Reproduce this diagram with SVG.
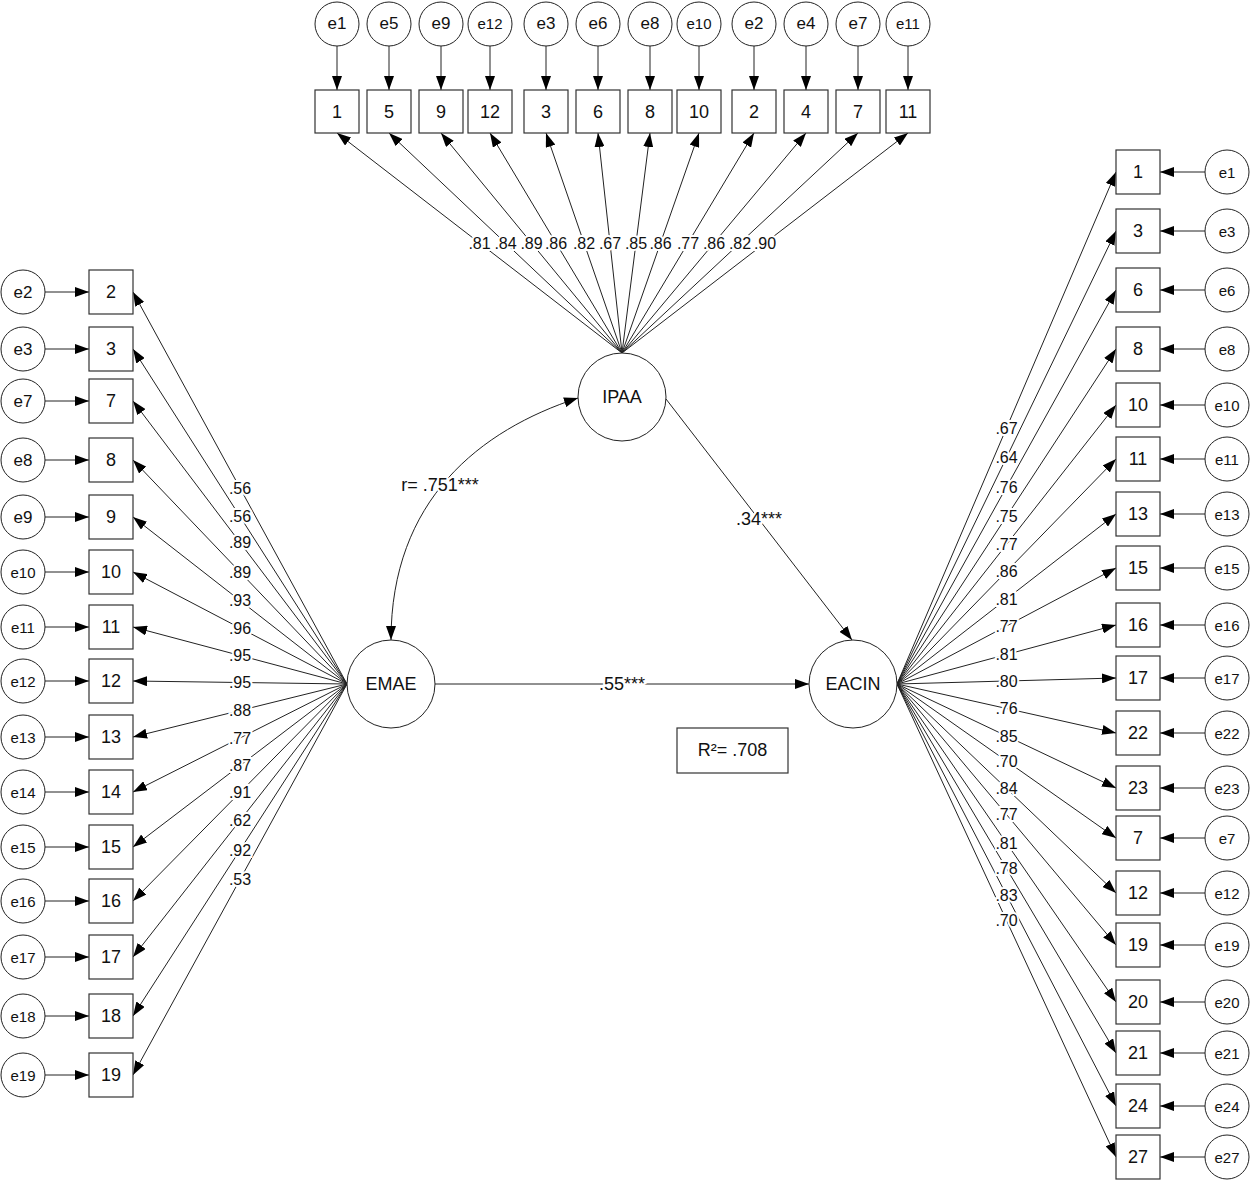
<svg xmlns="http://www.w3.org/2000/svg" width="1251" height="1181" viewBox="0 0 1251 1181">
<defs>
<marker id="ah" viewBox="0 0 14 10" refX="14" refY="5" markerWidth="14" markerHeight="10" markerUnits="userSpaceOnUse" orient="auto-start-reverse"><path d="M0,0 L14,5 L0,10 z" fill="#000"/></marker>
<style>
.box{fill:#fff;stroke:#333;stroke-width:1.2}
.err{fill:#fff;stroke:#222;stroke-width:1}
.lat{fill:#fff;stroke:#222;stroke-width:1}
text{font-family:"Liberation Sans",Arial,sans-serif;text-anchor:middle;dominant-baseline:central;fill:#111}
.n{font-size:18px}
.e1{font-size:17px}
.e2{font-size:15px}
.lv{font-size:18px}
.conn line,.conn path{stroke:#222;stroke-width:1;fill:none;marker-end:url(#ah)}
.lbl text{font-size:16px;stroke:#fff;stroke-width:4;paint-order:stroke}
.lbl text.big{font-size:18px}
</style>
</defs>
<rect width="1251" height="1181" fill="#fff"/>

<g id="connectors" class="conn">
<line x1="337" y1="46" x2="337" y2="90"/><line x1="389" y1="46" x2="389" y2="90"/><line x1="441" y1="46" x2="441" y2="90"/><line x1="490" y1="46" x2="490" y2="90"/><line x1="546" y1="46" x2="546" y2="90"/><line x1="598" y1="46" x2="598" y2="90"/><line x1="650" y1="46" x2="650" y2="90"/><line x1="699" y1="46" x2="699" y2="90"/><line x1="754" y1="46" x2="754" y2="90"/><line x1="806" y1="46" x2="806" y2="90"/><line x1="858" y1="46" x2="858" y2="90"/><line x1="908" y1="46" x2="908" y2="90"/>
<line x1="622" y1="353" x2="337" y2="133"/><line x1="622" y1="353" x2="389" y2="133"/><line x1="622" y1="353" x2="441" y2="133"/><line x1="622" y1="353" x2="490" y2="133"/><line x1="622" y1="353" x2="546" y2="133"/><line x1="622" y1="353" x2="598" y2="133"/><line x1="622" y1="353" x2="650" y2="133"/><line x1="622" y1="353" x2="699" y2="133"/><line x1="622" y1="353" x2="754" y2="133"/><line x1="622" y1="353" x2="806" y2="133"/><line x1="622" y1="353" x2="858" y2="133"/><line x1="622" y1="353" x2="908" y2="133"/>
<line x1="45" y1="292" x2="89" y2="292"/><line x1="45" y1="349" x2="89" y2="349"/><line x1="45" y1="401" x2="89" y2="401"/><line x1="45" y1="460" x2="89" y2="460"/><line x1="45" y1="517" x2="89" y2="517"/><line x1="45" y1="572" x2="89" y2="572"/><line x1="45" y1="627" x2="89" y2="627"/><line x1="45" y1="681" x2="89" y2="681"/><line x1="45" y1="737" x2="89" y2="737"/><line x1="45" y1="792" x2="89" y2="792"/><line x1="45" y1="847" x2="89" y2="847"/><line x1="45" y1="901" x2="89" y2="901"/><line x1="45" y1="957" x2="89" y2="957"/><line x1="45" y1="1016" x2="89" y2="1016"/><line x1="45" y1="1075" x2="89" y2="1075"/>
<line x1="347" y1="684" x2="133" y2="292"/><line x1="347" y1="684" x2="133" y2="349"/><line x1="347" y1="684" x2="133" y2="401"/><line x1="347" y1="684" x2="133" y2="460"/><line x1="347" y1="684" x2="133" y2="517"/><line x1="347" y1="684" x2="133" y2="572"/><line x1="347" y1="684" x2="133" y2="627"/><line x1="347" y1="684" x2="133" y2="681"/><line x1="347" y1="684" x2="133" y2="737"/><line x1="347" y1="684" x2="133" y2="792"/><line x1="347" y1="684" x2="133" y2="847"/><line x1="347" y1="684" x2="133" y2="901"/><line x1="347" y1="684" x2="133" y2="957"/><line x1="347" y1="684" x2="133" y2="1016"/><line x1="347" y1="684" x2="133" y2="1075"/>
<line x1="1205" y1="172" x2="1160" y2="172"/><line x1="1205" y1="231" x2="1160" y2="231"/><line x1="1205" y1="290" x2="1160" y2="290"/><line x1="1205" y1="349" x2="1160" y2="349"/><line x1="1205" y1="405" x2="1160" y2="405"/><line x1="1205" y1="459" x2="1160" y2="459"/><line x1="1205" y1="514" x2="1160" y2="514"/><line x1="1205" y1="568" x2="1160" y2="568"/><line x1="1205" y1="625" x2="1160" y2="625"/><line x1="1205" y1="678" x2="1160" y2="678"/><line x1="1205" y1="733" x2="1160" y2="733"/><line x1="1205" y1="788" x2="1160" y2="788"/><line x1="1205" y1="838" x2="1160" y2="838"/><line x1="1205" y1="893" x2="1160" y2="893"/><line x1="1205" y1="945" x2="1160" y2="945"/><line x1="1205" y1="1002" x2="1160" y2="1002"/><line x1="1205" y1="1053" x2="1160" y2="1053"/><line x1="1205" y1="1106" x2="1160" y2="1106"/><line x1="1205" y1="1157" x2="1160" y2="1157"/>
<line x1="897" y1="684" x2="1116" y2="172"/><line x1="897" y1="684" x2="1116" y2="231"/><line x1="897" y1="684" x2="1116" y2="290"/><line x1="897" y1="684" x2="1116" y2="349"/><line x1="897" y1="684" x2="1116" y2="405"/><line x1="897" y1="684" x2="1116" y2="459"/><line x1="897" y1="684" x2="1116" y2="514"/><line x1="897" y1="684" x2="1116" y2="568"/><line x1="897" y1="684" x2="1116" y2="625"/><line x1="897" y1="684" x2="1116" y2="678"/><line x1="897" y1="684" x2="1116" y2="733"/><line x1="897" y1="684" x2="1116" y2="788"/><line x1="897" y1="684" x2="1116" y2="838"/><line x1="897" y1="684" x2="1116" y2="893"/><line x1="897" y1="684" x2="1116" y2="945"/><line x1="897" y1="684" x2="1116" y2="1002"/><line x1="897" y1="684" x2="1116" y2="1053"/><line x1="897" y1="684" x2="1116" y2="1106"/><line x1="897" y1="684" x2="1116" y2="1157"/>
<line x1="666" y1="399" x2="852" y2="640"/>
<line x1="435" y1="684" x2="809" y2="684"/>
<path d="M578,398 C480,430 391,500 391,640" style="marker-start:url(#ah)"/>
</g>

<g id="labels" class="lbl">
<text x="479.5" y="243">.81</text><text x="505.5" y="243">.84</text><text x="531.5" y="243">.89</text><text x="556" y="243">.86</text><text x="584" y="243">.82</text><text x="610" y="243">.67</text><text x="636" y="243">.85</text><text x="660.5" y="243">.86</text><text x="688" y="243">.77</text><text x="714" y="243">.86</text><text x="740" y="243">.82</text><text x="765" y="243">.90</text>
<text x="240" y="488">.56</text><text x="240" y="516.5">.56</text><text x="240" y="542.5">.89</text><text x="240" y="572">.89</text><text x="240" y="600.5">.93</text><text x="240" y="628">.96</text><text x="240" y="655.5">.95</text><text x="240" y="682.5">.95</text><text x="240" y="710.5">.88</text><text x="240" y="738">.77</text><text x="240" y="765.5">.87</text><text x="240" y="792.5">.91</text><text x="240" y="820.5">.62</text><text x="240" y="850">.92</text><text x="240" y="879.5">.53</text>
<text x="1006.5" y="428">.67</text><text x="1006.5" y="457.5">.64</text><text x="1006.5" y="487">.76</text><text x="1006.5" y="516.5">.75</text><text x="1006.5" y="544.5">.77</text><text x="1006.5" y="571.5">.86</text><text x="1006.5" y="599">.81</text><text x="1006.5" y="626">.77</text><text x="1006.5" y="654.5">.81</text><text x="1006.5" y="681">.80</text><text x="1006.5" y="708.5">.76</text><text x="1006.5" y="736">.85</text><text x="1006.5" y="761">.70</text><text x="1006.5" y="788.5">.84</text><text x="1006.5" y="814.5">.77</text><text x="1006.5" y="843">.81</text><text x="1006.5" y="868.5">.78</text><text x="1006.5" y="895">.83</text><text x="1006.5" y="920.5">.70</text>
<text class="big" x="440" y="485">r= .751***</text>
<text class="big" x="759" y="519">.34***</text>
<text class="big" x="622" y="684">.55***</text>
</g>

<g id="IPAA"><circle class="lat" cx="622" cy="397" r="44"/><text class="lv" x="622" y="397">IPAA</text></g>
<g id="EMAE"><circle class="lat" cx="391" cy="684" r="44"/><text class="lv" x="391" y="684">EMAE</text></g>
<g id="EACIN"><circle class="lat" cx="853" cy="684" r="44"/><text class="lv" x="853" y="684">EACIN</text></g>
<g id="R2"><rect class="box" x="677" y="728" width="111" height="45"/><text class="lv" x="732.5" y="750">R²= .708</text></g>

<g id="top-e1"><circle class="err" cx="337" cy="24" r="22"/><text class="e1" x="337" y="23">e1</text></g>
<g id="top-e5"><circle class="err" cx="389" cy="24" r="22"/><text class="e1" x="389" y="23">e5</text></g>
<g id="top-e9"><circle class="err" cx="441" cy="24" r="22"/><text class="e1" x="441" y="23">e9</text></g>
<g id="top-e12"><circle class="err" cx="490" cy="24" r="22"/><text class="e2" x="490" y="23">e12</text></g>
<g id="top-e3"><circle class="err" cx="546" cy="24" r="22"/><text class="e1" x="546" y="23">e3</text></g>
<g id="top-e6"><circle class="err" cx="598" cy="24" r="22"/><text class="e1" x="598" y="23">e6</text></g>
<g id="top-e8"><circle class="err" cx="650" cy="24" r="22"/><text class="e1" x="650" y="23">e8</text></g>
<g id="top-e10"><circle class="err" cx="699" cy="24" r="22"/><text class="e2" x="699" y="23">e10</text></g>
<g id="top-e2"><circle class="err" cx="754" cy="24" r="22"/><text class="e1" x="754" y="23">e2</text></g>
<g id="top-e4"><circle class="err" cx="806" cy="24" r="22"/><text class="e1" x="806" y="23">e4</text></g>
<g id="top-e7"><circle class="err" cx="858" cy="24" r="22"/><text class="e1" x="858" y="23">e7</text></g>
<g id="top-e11"><circle class="err" cx="908" cy="24" r="22"/><text class="e2" x="908" y="23">e11</text></g>

<g id="top-1"><rect class="box" x="315" y="90" width="44" height="43"/><text class="n" x="337" y="111.5">1</text></g>
<g id="top-5"><rect class="box" x="367" y="90" width="44" height="43"/><text class="n" x="389" y="111.5">5</text></g>
<g id="top-9"><rect class="box" x="419" y="90" width="44" height="43"/><text class="n" x="441" y="111.5">9</text></g>
<g id="top-12"><rect class="box" x="468" y="90" width="44" height="43"/><text class="n" x="490" y="111.5">12</text></g>
<g id="top-3"><rect class="box" x="524" y="90" width="44" height="43"/><text class="n" x="546" y="111.5">3</text></g>
<g id="top-6"><rect class="box" x="576" y="90" width="44" height="43"/><text class="n" x="598" y="111.5">6</text></g>
<g id="top-8"><rect class="box" x="628" y="90" width="44" height="43"/><text class="n" x="650" y="111.5">8</text></g>
<g id="top-10"><rect class="box" x="677" y="90" width="44" height="43"/><text class="n" x="699" y="111.5">10</text></g>
<g id="top-2"><rect class="box" x="732" y="90" width="44" height="43"/><text class="n" x="754" y="111.5">2</text></g>
<g id="top-4"><rect class="box" x="784" y="90" width="44" height="43"/><text class="n" x="806" y="111.5">4</text></g>
<g id="top-7"><rect class="box" x="836" y="90" width="44" height="43"/><text class="n" x="858" y="111.5">7</text></g>
<g id="top-11"><rect class="box" x="886" y="90" width="44" height="43"/><text class="n" x="908" y="111.5">11</text></g>

<g id="left-e2"><circle class="err" cx="23" cy="292" r="22"/><text class="e1" x="23" y="292">e2</text></g>
<g id="left-e3"><circle class="err" cx="23" cy="349" r="22"/><text class="e1" x="23" y="349">e3</text></g>
<g id="left-e7"><circle class="err" cx="23" cy="401" r="22"/><text class="e1" x="23" y="401">e7</text></g>
<g id="left-e8"><circle class="err" cx="23" cy="460" r="22"/><text class="e1" x="23" y="460">e8</text></g>
<g id="left-e9"><circle class="err" cx="23" cy="517" r="22"/><text class="e1" x="23" y="517">e9</text></g>
<g id="left-e10"><circle class="err" cx="23" cy="572" r="22"/><text class="e2" x="23" y="572">e10</text></g>
<g id="left-e11"><circle class="err" cx="23" cy="627" r="22"/><text class="e2" x="23" y="627">e11</text></g>
<g id="left-e12"><circle class="err" cx="23" cy="681" r="22"/><text class="e2" x="23" y="681">e12</text></g>
<g id="left-e13"><circle class="err" cx="23" cy="737" r="22"/><text class="e2" x="23" y="737">e13</text></g>
<g id="left-e14"><circle class="err" cx="23" cy="792" r="22"/><text class="e2" x="23" y="792">e14</text></g>
<g id="left-e15"><circle class="err" cx="23" cy="847" r="22"/><text class="e2" x="23" y="847">e15</text></g>
<g id="left-e16"><circle class="err" cx="23" cy="901" r="22"/><text class="e2" x="23" y="901">e16</text></g>
<g id="left-e17"><circle class="err" cx="23" cy="957" r="22"/><text class="e2" x="23" y="957">e17</text></g>
<g id="left-e18"><circle class="err" cx="23" cy="1016" r="22"/><text class="e2" x="23" y="1016">e18</text></g>
<g id="left-e19"><circle class="err" cx="23" cy="1075" r="22"/><text class="e2" x="23" y="1075">e19</text></g>

<g id="left-2"><rect class="box" x="89" y="270" width="44" height="44"/><text class="n" x="111" y="292">2</text></g>
<g id="left-3"><rect class="box" x="89" y="327" width="44" height="44"/><text class="n" x="111" y="349">3</text></g>
<g id="left-7"><rect class="box" x="89" y="379" width="44" height="44"/><text class="n" x="111" y="401">7</text></g>
<g id="left-8"><rect class="box" x="89" y="438" width="44" height="44"/><text class="n" x="111" y="460">8</text></g>
<g id="left-9"><rect class="box" x="89" y="495" width="44" height="44"/><text class="n" x="111" y="517">9</text></g>
<g id="left-10"><rect class="box" x="89" y="550" width="44" height="44"/><text class="n" x="111" y="572">10</text></g>
<g id="left-11"><rect class="box" x="89" y="605" width="44" height="44"/><text class="n" x="111" y="627">11</text></g>
<g id="left-12"><rect class="box" x="89" y="659" width="44" height="44"/><text class="n" x="111" y="681">12</text></g>
<g id="left-13"><rect class="box" x="89" y="715" width="44" height="44"/><text class="n" x="111" y="737">13</text></g>
<g id="left-14"><rect class="box" x="89" y="770" width="44" height="44"/><text class="n" x="111" y="792">14</text></g>
<g id="left-15"><rect class="box" x="89" y="825" width="44" height="44"/><text class="n" x="111" y="847">15</text></g>
<g id="left-16"><rect class="box" x="89" y="879" width="44" height="44"/><text class="n" x="111" y="901">16</text></g>
<g id="left-17"><rect class="box" x="89" y="935" width="44" height="44"/><text class="n" x="111" y="957">17</text></g>
<g id="left-18"><rect class="box" x="89" y="994" width="44" height="44"/><text class="n" x="111" y="1016">18</text></g>
<g id="left-19"><rect class="box" x="89" y="1053" width="44" height="44"/><text class="n" x="111" y="1075">19</text></g>

<g id="right-1"><rect class="box" x="1116" y="150" width="44" height="44"/><text class="n" x="1138" y="172">1</text></g>
<g id="right-3"><rect class="box" x="1116" y="209" width="44" height="44"/><text class="n" x="1138" y="231">3</text></g>
<g id="right-6"><rect class="box" x="1116" y="268" width="44" height="44"/><text class="n" x="1138" y="290">6</text></g>
<g id="right-8"><rect class="box" x="1116" y="327" width="44" height="44"/><text class="n" x="1138" y="349">8</text></g>
<g id="right-10"><rect class="box" x="1116" y="383" width="44" height="44"/><text class="n" x="1138" y="405">10</text></g>
<g id="right-11"><rect class="box" x="1116" y="437" width="44" height="44"/><text class="n" x="1138" y="459">11</text></g>
<g id="right-13"><rect class="box" x="1116" y="492" width="44" height="44"/><text class="n" x="1138" y="514">13</text></g>
<g id="right-15"><rect class="box" x="1116" y="546" width="44" height="44"/><text class="n" x="1138" y="568">15</text></g>
<g id="right-16"><rect class="box" x="1116" y="603" width="44" height="44"/><text class="n" x="1138" y="625">16</text></g>
<g id="right-17"><rect class="box" x="1116" y="656" width="44" height="44"/><text class="n" x="1138" y="678">17</text></g>
<g id="right-22"><rect class="box" x="1116" y="711" width="44" height="44"/><text class="n" x="1138" y="733">22</text></g>
<g id="right-23"><rect class="box" x="1116" y="766" width="44" height="44"/><text class="n" x="1138" y="788">23</text></g>
<g id="right-7"><rect class="box" x="1116" y="816" width="44" height="44"/><text class="n" x="1138" y="838">7</text></g>
<g id="right-12"><rect class="box" x="1116" y="871" width="44" height="44"/><text class="n" x="1138" y="893">12</text></g>
<g id="right-19"><rect class="box" x="1116" y="923" width="44" height="44"/><text class="n" x="1138" y="945">19</text></g>
<g id="right-20"><rect class="box" x="1116" y="980" width="44" height="44"/><text class="n" x="1138" y="1002">20</text></g>
<g id="right-21"><rect class="box" x="1116" y="1031" width="44" height="44"/><text class="n" x="1138" y="1053">21</text></g>
<g id="right-24"><rect class="box" x="1116" y="1084" width="44" height="44"/><text class="n" x="1138" y="1106">24</text></g>
<g id="right-27"><rect class="box" x="1116" y="1135" width="44" height="44"/><text class="n" x="1138" y="1157">27</text></g>

<g id="right-e1"><circle class="err" cx="1227" cy="172" r="22"/><text class="e2" x="1227" y="172">e1</text></g>
<g id="right-e3"><circle class="err" cx="1227" cy="231" r="22"/><text class="e2" x="1227" y="231">e3</text></g>
<g id="right-e6"><circle class="err" cx="1227" cy="290" r="22"/><text class="e2" x="1227" y="290">e6</text></g>
<g id="right-e8"><circle class="err" cx="1227" cy="349" r="22"/><text class="e2" x="1227" y="349">e8</text></g>
<g id="right-e10"><circle class="err" cx="1227" cy="405" r="22"/><text class="e2" x="1227" y="405">e10</text></g>
<g id="right-e11"><circle class="err" cx="1227" cy="459" r="22"/><text class="e2" x="1227" y="459">e11</text></g>
<g id="right-e13"><circle class="err" cx="1227" cy="514" r="22"/><text class="e2" x="1227" y="514">e13</text></g>
<g id="right-e15"><circle class="err" cx="1227" cy="568" r="22"/><text class="e2" x="1227" y="568">e15</text></g>
<g id="right-e16"><circle class="err" cx="1227" cy="625" r="22"/><text class="e2" x="1227" y="625">e16</text></g>
<g id="right-e17"><circle class="err" cx="1227" cy="678" r="22"/><text class="e2" x="1227" y="678">e17</text></g>
<g id="right-e22"><circle class="err" cx="1227" cy="733" r="22"/><text class="e2" x="1227" y="733">e22</text></g>
<g id="right-e23"><circle class="err" cx="1227" cy="788" r="22"/><text class="e2" x="1227" y="788">e23</text></g>
<g id="right-e7"><circle class="err" cx="1227" cy="838" r="22"/><text class="e2" x="1227" y="838">e7</text></g>
<g id="right-e12"><circle class="err" cx="1227" cy="893" r="22"/><text class="e2" x="1227" y="893">e12</text></g>
<g id="right-e19"><circle class="err" cx="1227" cy="945" r="22"/><text class="e2" x="1227" y="945">e19</text></g>
<g id="right-e20"><circle class="err" cx="1227" cy="1002" r="22"/><text class="e2" x="1227" y="1002">e20</text></g>
<g id="right-e21"><circle class="err" cx="1227" cy="1053" r="22"/><text class="e2" x="1227" y="1053">e21</text></g>
<g id="right-e24"><circle class="err" cx="1227" cy="1106" r="22"/><text class="e2" x="1227" y="1106">e24</text></g>
<g id="right-e27"><circle class="err" cx="1227" cy="1157" r="22"/><text class="e2" x="1227" y="1157">e27</text></g>
</svg>
